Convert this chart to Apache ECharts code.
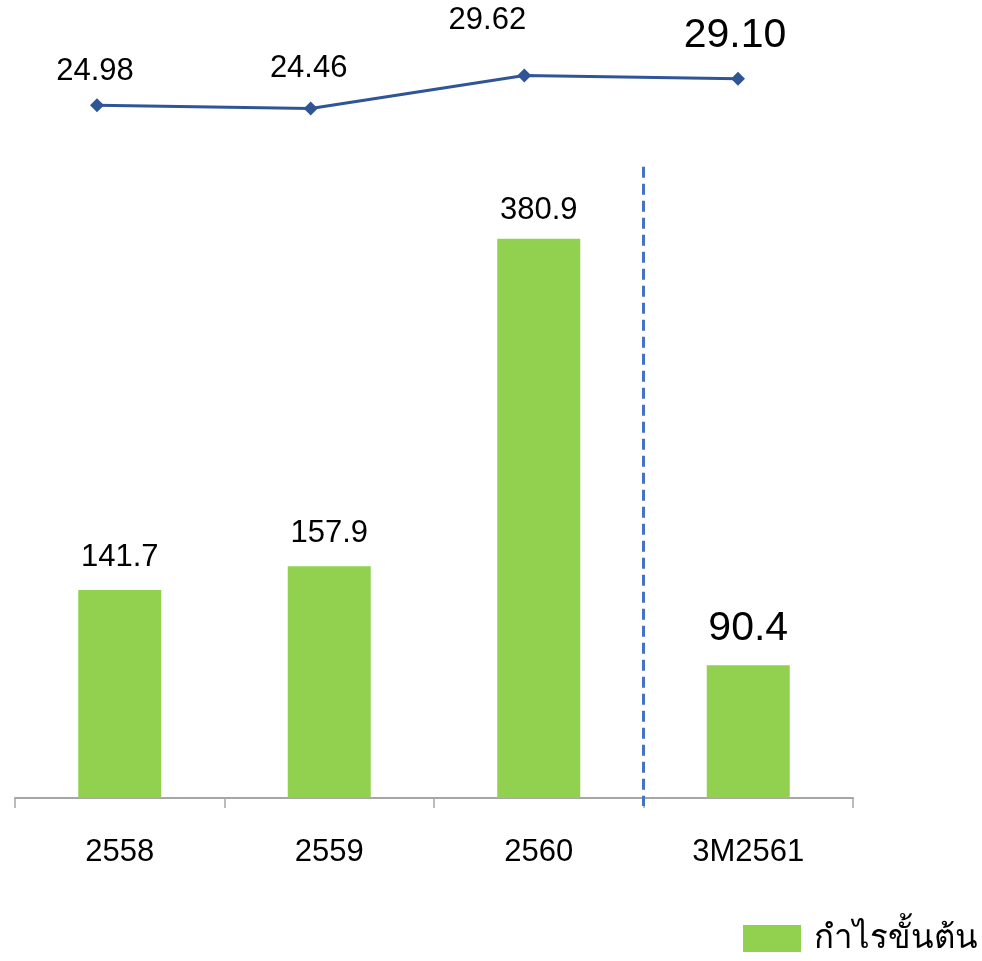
<!DOCTYPE html>
<html>
<head>
<meta charset="utf-8">
<script src="https://cdn.jsdelivr.net/npm/echarts@6/dist/echarts.min.js"></script>
<style>
  html, body { margin: 0; padding: 0; background: #fff; }
  #chart { width: 982px; height: 961px; }
</style>
</head>
<body>
<div id="chart"></div>
<script>
const categories = ['2558', '2559', '2560', '3M2561'];
const grossProfit = [141.7, 157.9, 380.9, 90.4];
const margin = [24.98, 24.46, 29.62, 29.10];
const legendName = 'กำไรขั้นต้น';

const FONT = '"Liberation Sans", Arial, sans-serif';
const last = categories.length - 1;

// label nudges
const lineLabelOffset = [[-2, -34], [-2, -40], [-37, -55], [-3, -43]];

const barData = grossProfit.map((v, i) => ({
    value: v,
    label: i === last ? { fontSize: 41, distance: 16 } : { fontSize: 31, distance: i === 2 ? 13 : 17 }
}));

const lineData = margin.map((v, i) => ({
    value: v,
    label: {
        position: 'inside',
        offset: lineLabelOffset[i],
        fontSize: i === last ? 41 : 31
    }
}));

const option = {
    animation: false,
    backgroundColor: '#ffffff',
    textStyle: { fontFamily: FONT },
    grid: [
        { left: 15, right: 129, top: 64, bottom: 163 },
        { left: 97, right: 244, top: 41, height: 96 }
    ],
    legend: {
        right: 0,
        top: 922,
        padding: [0, 4, 0, 0],
        icon: 'rect',
        itemWidth: 58,
        itemHeight: 27,
        itemGap: 0,
        data: [legendName],
        textStyle: {
            fontSize: 33, color: '#000', padding: [0, 0, 0, 8],
            fontFamily: '"Noto Sans", "DejaVu Sans", sans-serif'
        }
    },
    xAxis: [
        {
            type: 'category',
            gridIndex: 0,
            data: categories,
            axisLine: { lineStyle: { color: '#a6a6a6', width: 2 } },
            axisTick: { show: true, length: 10, lineStyle: { color: '#a6a6a6', width: 1.5 } },
            axisLabel: { fontSize: 31, color: '#000', margin: 39, fontFamily: FONT }
        },
        {
            type: 'category',
            gridIndex: 1,
            data: categories,
            boundaryGap: false,
            show: false
        }
    ],
    yAxis: [
        { type: 'value', gridIndex: 0, min: 0, max: 500, show: false },
        { type: 'value', gridIndex: 1, min: 20, max: 35, show: false }
    ],
    series: [
        {
            name: legendName,
            type: 'bar',
            xAxisIndex: 0,
            yAxisIndex: 0,
            data: barData,
            barWidth: 83,
            itemStyle: { color: '#92d050' },
            label: { show: true, position: 'top', color: '#000', fontFamily: FONT }
        },
        {
            name: 'margin',
            type: 'line',
            xAxisIndex: 1,
            yAxisIndex: 1,
            data: lineData,
            symbol: 'diamond',
            symbolSize: 14,
            lineStyle: { color: '#2f5597', width: 3 },
            itemStyle: { color: '#2f5597' },
            label: { show: true, color: '#000', fontFamily: FONT, formatter: p => p.value.toFixed(2) }
        }
    ]
};

const chart = echarts.init(document.getElementById('chart'));
chart.setOption(option);

// dashed divider between the full years and the quarter
const xa = chart.convertToPixel({ xAxisIndex: 0 }, categories[last - 1]);
const xb = chart.convertToPixel({ xAxisIndex: 0 }, categories[last]);
const xMid = (xa + xb) / 2;
const yBase = chart.convertToPixel({ yAxisIndex: 0 }, 0);
const yTop = chart.convertToPixel({ yAxisIndex: 0 }, 430);
chart.setOption({
    graphic: [{
        type: 'line',
        shape: { x1: xMid, y1: yTop, x2: xMid, y2: yBase + 8 },
        style: { stroke: '#4472c4', lineWidth: 3, lineDash: [11, 6] },
        z: 10
    }]
});
window.addEventListener('resize', () => chart.resize());
</script>
</body>
</html>
